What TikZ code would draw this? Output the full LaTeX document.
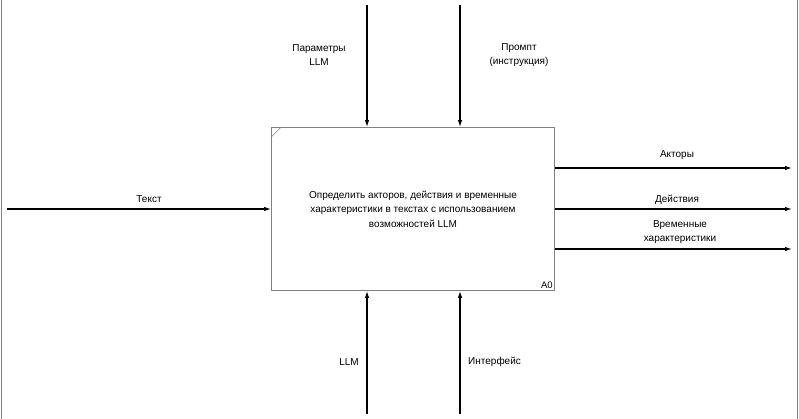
\documentclass[tikz,border=0pt]{standalone}
\usepackage{fontspec}
\setmainfont{Liberation Sans}
\usetikzlibrary{arrows.meta,positioning}
\begin{document}
\begin{tikzpicture}[x=1pt,y=-1pt,>={Latex[length=7pt,width=4.5pt]},line join=round,font=\fontsize{10}{14.5}\selectfont,
	arr/.style={->,line width=1.2pt},
	lbl/.style={align=center,inner sep=0pt}]
	\useasboundingbox (0,0) rectangle (799,419);
	\draw[gray,line width=0.8pt] (1,0)--(1,419) (797.5,0)--(797.5,419);
	% function box
	\node[draw=gray,line width=0.8pt,minimum width=283pt,minimum height=163pt,inner sep=0pt,align=center] (func) at (413,209) {Определить акторов, действия и временные\\характеристики в текстах с использованием\\возможностей LLM};
	\draw[gray,line width=0.6pt] ([yshift=-10pt]func.north west)--([xshift=10pt]func.north west);
	\node[anchor=south east,inner sep=2pt,font=\fontsize{9.5}{11}\selectfont] (num) at (func.south east) {A0};
	% input
	\coordinate (in1) at (7,209);
	\draw[arr] (in1)--(in1 -| func.west);
	\node[lbl] (ltext) at (149,199) {Текст};
	% controls
	\coordinate (c1) at (367,5);
	\coordinate (c2) at (460,5);
	\draw[arr] (c1)--(c1 |- func.north);
	\draw[arr] (c2)--(c2 |- func.north);
	\node[lbl] (lparam) at (319,55) {Параметры\\LLM};
	\node[lbl] (lprompt) at (519,55) {Промпт\\(инструкция)};
	% mechanisms
	\coordinate (m1) at (367,414);
	\coordinate (m2) at (460,414);
	\draw[arr] (m1)--(m1 |- func.south);
	\draw[arr] (m2)--(m2 |- func.south);
	\node[lbl,anchor=east] (lllm) at (359,362) {LLM};
	\node[lbl,anchor=west] (liface) at (468,362) {Интерфейс};
	% outputs
	\coordinate (o1) at (792,168);
	\coordinate (o2) at (792,209);
	\coordinate (o3) at (792,249);
	\draw[arr] (o1 -| func.east)--(o1);
	\draw[arr] (o2 -| func.east)--(o2);
	\draw[arr] (o3 -| func.east)--(o3);
	\node[lbl] (lact) at (677,155) {Акторы};
	\node[lbl] (ldo) at (677,200) {Действия};
	\node[lbl] (ltime) at (680,232) {Временные\\характеристики};
\end{tikzpicture}
\end{document}
